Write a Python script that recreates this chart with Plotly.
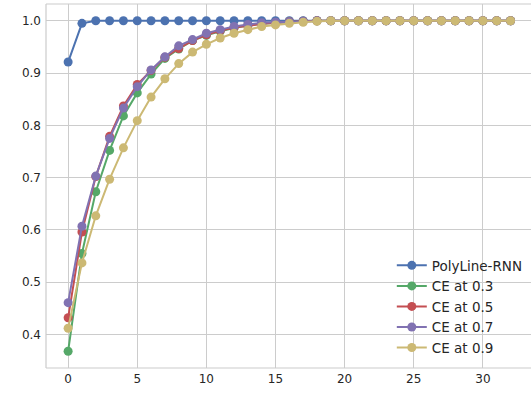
import plotly.graph_objects as go

epochs = list(range(33))
polyline_rnn = [0.921, 0.995, 1.0, 1.0, 1.0, 1.0, 1.0, 1.0, 1.0, 1.0, 1.0,
                1.0, 1.0, 1.0, 1.0, 1.0, 1.0, 1.0, 1.0, 1.0, 1.0, 1.0,
                1.0, 1.0, 1.0, 1.0, 1.0, 1.0, 1.0, 1.0, 1.0, 1.0, 1.0]
ce_03 = [0.368, 0.555, 0.673, 0.752, 0.818, 0.862, 0.898, 0.928, 0.946, 0.962, 0.972,
         0.980, 0.986, 0.991, 0.994, 0.996, 0.998, 0.999, 1.0, 1.0, 1.0, 1.0,
         1.0, 1.0, 1.0, 1.0, 1.0, 1.0, 1.0, 1.0, 1.0, 1.0, 1.0]
ce_05 = [0.432, 0.596, 0.702, 0.779, 0.837, 0.878, 0.905, 0.930, 0.947, 0.962, 0.973,
         0.981, 0.987, 0.991, 0.994, 0.996, 0.998, 0.999, 1.0, 1.0, 1.0, 1.0,
         1.0, 1.0, 1.0, 1.0, 1.0, 1.0, 1.0, 1.0, 1.0, 1.0, 1.0]
ce_07 = [0.461, 0.607, 0.703, 0.775, 0.833, 0.874, 0.906, 0.931, 0.952, 0.964, 0.976,
         0.983, 0.989, 0.993, 0.996, 0.997, 0.998, 0.999, 1.0, 1.0, 1.0, 1.0,
         1.0, 1.0, 1.0, 1.0, 1.0, 1.0, 1.0, 1.0, 1.0, 1.0, 1.0]
ce_09 = [0.412, 0.537, 0.627, 0.697, 0.757, 0.809, 0.854, 0.889, 0.918, 0.940, 0.955,
         0.967, 0.976, 0.983, 0.989, 0.992, 0.995, 0.997, 0.999, 1.0, 1.0, 1.0,
         1.0, 1.0, 1.0, 1.0, 1.0, 1.0, 1.0, 1.0, 1.0, 1.0, 1.0]

series = [
    ("PolyLine-RNN", polyline_rnn, "#4C72B0"),
    ("CE at 0.3", ce_03, "#55A868"),
    ("CE at 0.5", ce_05, "#C44E52"),
    ("CE at 0.7", ce_07, "#8172B2"),
    ("CE at 0.9", ce_09, "#CCB974"),
]

x_ticks = [0, 5, 10, 15, 20, 25, 30]
y_ticks = [0.4, 0.5, 0.6, 0.7, 0.8, 0.9, 1.0]

fig = go.Figure()
for name, vals, color in series:
    fig.add_trace(go.Scatter(
        x=epochs, y=vals, name=name, mode="lines+markers",
        line=dict(color=color, width=2),
        marker=dict(color=color, size=9),
    ))

grid = "#cccccc"
fig.update_layout(
    width=531, height=396,
    margin=dict(l=46, r=0, t=4, b=28, autoexpand=False),
    paper_bgcolor="white", plot_bgcolor="white",
    font=dict(family="DejaVu Sans", size=12, color="#262626"),
    showlegend=True,
    legend=dict(x=0.713, y=0.324, xanchor="left", yanchor="top",
                bgcolor="rgba(0,0,0,0)", font=dict(size=13.5, color="#262626"),
                tracegroupgap=0),
    xaxis=dict(range=[-1.6, 33.48], tickvals=x_ticks, showgrid=True, gridcolor=grid,
               gridwidth=1, zeroline=False, showline=False, ticks="", ticklen=0,
               automargin=False, ticklabelstandoff=2),
    yaxis=dict(range=[0.336, 1.032], tickvals=y_ticks, tickformat=".1f", showgrid=True,
               gridcolor=grid, gridwidth=1, zeroline=False, showline=False, ticks="",
               automargin=False, ticklabelstandoff=4),
    shapes=[
        dict(type="line", xref="paper", yref="paper", x0=0, x1=0, y0=0, y1=1,
             line=dict(color=grid, width=1.2)),
        dict(type="line", xref="paper", yref="paper", x0=0, x1=1, y0=0, y1=0,
             line=dict(color=grid, width=1.2)),
        dict(type="line", xref="paper", yref="paper", x0=0, x1=1, y0=1, y1=1,
             line=dict(color=grid, width=1.2)),
    ],
)

fig.write_html("out.html", config={"displayModeBar": False},
               post_script="document.body.style.margin='0';")
